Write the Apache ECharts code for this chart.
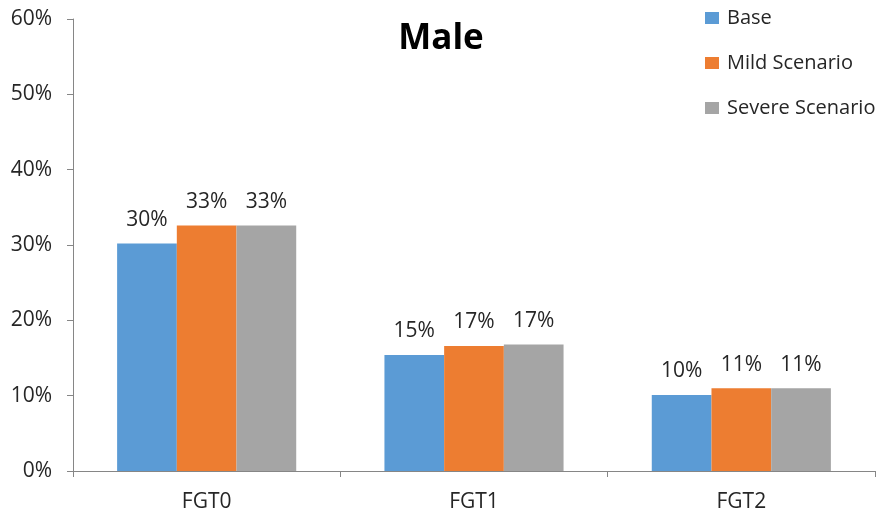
<!DOCTYPE html>
<html><head><meta charset="utf-8">
<script src="https://cdn.jsdelivr.net/npm/echarts@6/dist/echarts.min.js"></script>
<style>html,body{margin:0;padding:0;background:#fff}#c{width:893px;height:518px}</style>
</head><body><div id="c"></div>
<script>
const categories = ['FGT0', 'FGT1', 'FGT2'];
const seriesNames = ['Base', 'Mild Scenario', 'Severe Scenario'];
const baseValues = [30.2, 15.4, 10.1];
const mildValues = [32.6, 16.6, 11.0];
const severeValues = [32.6, 16.8, 11.0];
const yTicks = [0, 10, 20, 30, 40, 50, 60];
const colors = ['#5B9BD5', '#ED7D31', '#A5A5A5'];

const FONT = 'Open Sans';
const chart = echarts.init(document.getElementById('c'));
const mk = (name, data, color) => ({
  name, type: 'bar', data, barGap: '0%', barCategoryGap: '33%',
  itemStyle: { color },
  label: { show: true, position: 'top', distance: 13, color: '#262626', fontSize: 21, fontFamily: FONT,
    formatter: p => Math.round(p.value) + '%' }
});
chart.setOption({
  animation: false,
  title: { text: 'Male', left: 436, top: 17, textAlign: 'center',
    textStyle: { fontSize: 35, fontWeight: 'bold', color: '#000', fontFamily: FONT } },
  legend: { orient: 'vertical', left: 700, top: 3, itemWidth: 14, itemHeight: 12, itemGap: 25,
    icon: 'rect', textStyle: { fontSize: 20, color: '#262626', fontFamily: FONT, padding: [0, 0, 0, 3] },
    data: seriesNames },
  grid: { left: 73, right: 18, top: 19, bottom: 47, containLabel: false },
  xAxis: { type: 'category', data: categories,
    axisLine: { lineStyle: { color: '#868686', width: 1 } },
    axisTick: { show: true, length: 6, lineStyle: { color: '#868686' } },
    axisLabel: { fontSize: 21, color: '#262626', fontFamily: FONT, margin: 21 } },
  yAxis: { type: 'value', min: yTicks[0], max: yTicks[yTicks.length - 1], interval: 10,
    axisLine: { show: true, lineStyle: { color: '#868686', width: 1 } },
    axisTick: { show: true, length: 6, lineStyle: { color: '#868686' } },
    splitLine: { show: false },
    axisLabel: { fontSize: 21, color: '#262626', fontFamily: FONT, margin: 21, formatter: v => v + '%' } },
  series: [mk(seriesNames[0], baseValues, colors[0]), mk(seriesNames[1], mildValues, colors[1]), mk(seriesNames[2], severeValues, colors[2])]
});
</script></body></html>
